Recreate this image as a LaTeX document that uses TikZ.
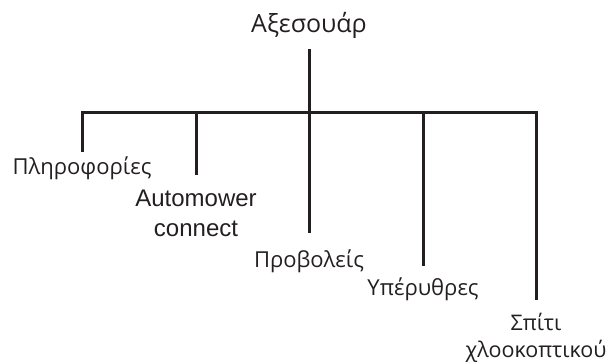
\documentclass[tikz,border=0pt]{standalone}
\usepackage{fontspec}
\setmainfont{Liberation Sans}
\newfontfamily\greekfont{Open Sans}
\usepackage{xcolor}
\usepackage{tikz}
\usetikzlibrary{positioning}
\definecolor{inkgray}{RGB}{35, 31, 32}

\begin{document}
\begin{tikzpicture}[
    x=1pt, y=-1pt,
    head/.style  = {font=\greekfont\fontsize{25}{30}\selectfont, text=inkgray,
                    inner xsep=0pt, inner ysep=11pt, text depth=5pt},
    leaf/.style  = {font=\greekfont\fontsize{22}{28}\selectfont, text=inkgray,
                    align=center, inner xsep=0pt, text height=15.75pt},
    latin/.style = {leaf, font=\fontsize{24}{30}\selectfont, text height=47.2pt},
    link/.style  = {draw=inkgray, line width=3pt},
  ]
  \useasboundingbox (0,0) rectangle (609,361);

  %% Junctions on the bar
  \coordinate (j1) at (82,112);
  \coordinate (j2) at (196,112);
  \coordinate (jc) at (309,112);
  \coordinate (j4) at (423,112);
  \coordinate (j5) at (536,112);

  %% Root
  \node[head, above=63pt of jc] (acc) {Αξεσουάρ};

  %% Leaves (below each junction)
  \node[leaf, inner ysep=7pt,   below=40pt of j1]  (info)  {Πληροφορίες};
  \node[latin, inner ysep=14pt, below=63pt of j2]  (amc)   {Automower\\connect};
  \node[leaf, inner ysep=19pt,  below=121pt of jc] (lamps) {Προβολείς};
  \node[leaf, inner ysep=14pt,  below=154pt of j4] (ir)    {Υπέρυθρες};
  \node[leaf, font=\greekfont\fontsize{21.5}{26.5}\selectfont,
        inner ysep=15pt, text height=41.9pt,
        below=188pt of j5] (house) {Σπίτι\\χλοοκοπτικού};

  %% Connectors
  \draw[link] (acc) -- (jc);
  \draw[link] (info.north) -- (j1) -- (j5) -- (house.north);
  \draw[link] (j2) -- (amc);
  \draw[link] (jc) -- (lamps);
  \draw[link] (j4) -- (ir);

\end{tikzpicture}
\end{document}
